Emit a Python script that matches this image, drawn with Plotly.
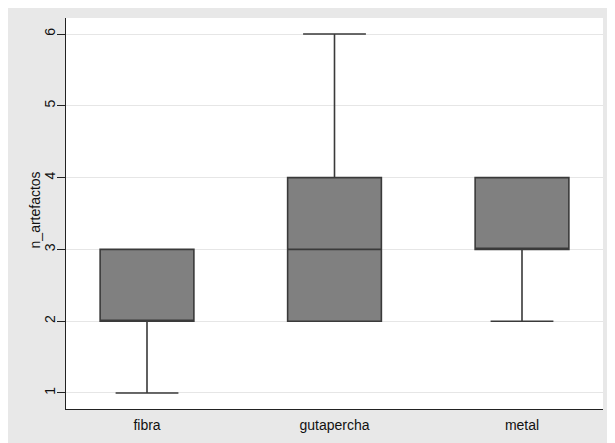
import plotly.graph_objects as go

categories = ["fibra", "gutapercha", "metal"]
q1 = [2, 2, 3]
median = [2, 3, 3]
q3 = [3, 4, 4]
lowerfence = [1, 2, 2]
upperfence = [3, 6, 4]
ytick_vals = [1, 2, 3, 4, 5, 6]
y_title = "n_artefactos"

fig = go.Figure()
fig.add_trace(go.Box(
    x=categories, q1=q1, median=median, q3=q3,
    lowerfence=lowerfence, upperfence=upperfence,
    fillcolor="#808080",
    line=dict(color="#3a3a3a", width=1.6),
    width=0.5, whiskerwidth=0.67,
    boxpoints=False, hoverinfo="skip", showlegend=False,
))

fig.update_layout(
    width=607, height=435,
    margin=dict(l=58, r=12, t=10, b=34),
    paper_bgcolor="#e8e8e8",
    plot_bgcolor="white",
    font=dict(family="Liberation Sans, Arial, sans-serif", size=14, color="#111"),
    xaxis=dict(
        type="category", range=[-0.432, 2.432],
        showgrid=False, showline=True, linecolor="#222", linewidth=1.2,
        ticks="", zeroline=False, tickfont=dict(size=14),
        ticklabelstandoff=3,
    ),
    yaxis=dict(
        range=[0.777, 6.223], tickvals=ytick_vals,
        showgrid=True, gridcolor="#e6e6e6", gridwidth=1,
        showline=True, linecolor="#222", linewidth=1.2,
        ticks="outside", ticklen=8, tickcolor="#222",
        tickangle=-90, zeroline=False, tickfont=dict(size=14),
        ticklabelstandoff=-4,
    ),
    annotations=[dict(
        text=y_title, xref="paper", yref="paper",
        x=-0.058, y=0.51, xanchor="center", yanchor="middle",
        textangle=-90, showarrow=False, font=dict(size=14, color="#111"),
    )],
)

fig.write_html("out.html")
